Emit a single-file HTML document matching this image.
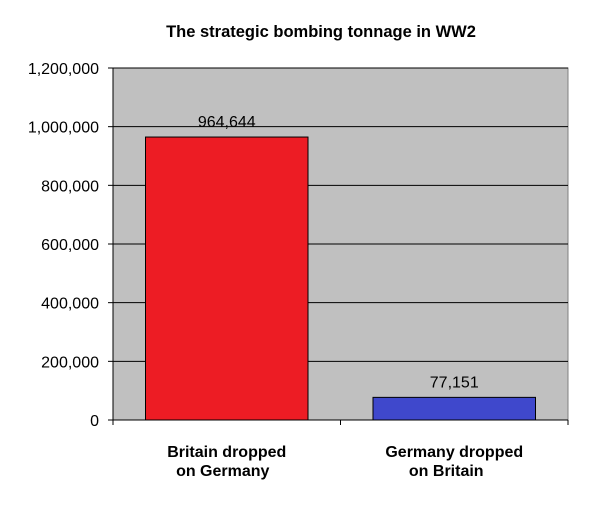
<!DOCTYPE html>
<html><head><meta charset="utf-8"><style>
body{margin:0;background:#fff;}
svg text{font-family:"Liberation Sans",Arial,sans-serif;}
</style></head><body>
<svg width="604" height="507">
<text x="321" y="37" text-anchor="middle" font-size="16.5" font-weight="bold">The strategic bombing tonnage in WW2</text>
<g id="plot"></g>
</svg>
<script>
const categories=[["Britain dropped","on Germany"],["Germany dropped","on Britain"]];
const values=[964644,77151];
const labels=["964,644","77,151"];
const colors=["#ed1c24","#3f48cc"];
const ticks=[0,200000,400000,600000,800000,1000000,1200000];
const tickLabels=["0","200,000","400,000","600,000","800,000","1,000,000","1,200,000"];
const L=113,R=568,T=68,B=420,max=1200000;
const y=v=>B-(v/max)*(B-T);
const cw=(R-L)/categories.length;
const g=document.getElementById('plot');
const NS="http://www.w3.org/2000/svg";
function mk(t,a){const e=document.createElementNS(NS,t);for(const k in a)e.setAttribute(k,a[k]);g.appendChild(e);return e;}
let bg=mk('rect',{x:L,y:T,width:R-L,height:B-T,fill:'#c0c0c0',stroke:'#808080'});


ticks.forEach((t,i)=>{
 if(t>0){let gl=mk('line',{x1:L,x2:R,y1:y(t),y2:y(t),stroke:'#000'});
 
 }
 let tk=mk('line',{x1:L-5,x2:L,y1:y(t),y2:y(t),stroke:'#000'});
 
 
 let tx=mk('text',{x:L-14,y:y(t)+6,'text-anchor':'end','font-size':'16'});tx.textContent=tickLabels[i];
 
 
});
let ax=mk('line',{x1:L,x2:L,y1:T,y2:B,stroke:'#000'});


let xa=mk('line',{x1:L,x2:R,y1:B,y2:B,stroke:'#000'});


for(let i=0;i<=categories.length;i++){let t=mk('line',{x1:L+i*cw,x2:L+i*cw,y1:B,y2:B+5,stroke:'#000'});
 
 }
values.forEach((v,i)=>{
 const x0=L+i*cw+32.5,w=cw-65;
 let b=mk('rect',{x:x0,y:y(v),width:w,height:B-y(v),fill:colors[i],stroke:'#000'});
 
 
 let lb=mk('text',{x:x0+w/2,y:y(v)-10,'text-anchor':'middle','font-size':'16'});lb.textContent=labels[i];
 
 
 categories[i].forEach((s,j)=>{
  let c=mk('text',{x:L+i*cw+cw/2-(j?(i?8:4):0),y:457+j*19,'text-anchor':'middle','font-size':'16','font-weight':'bold'});c.textContent=s;
  
  
 });
});
</script>
</body></html>
